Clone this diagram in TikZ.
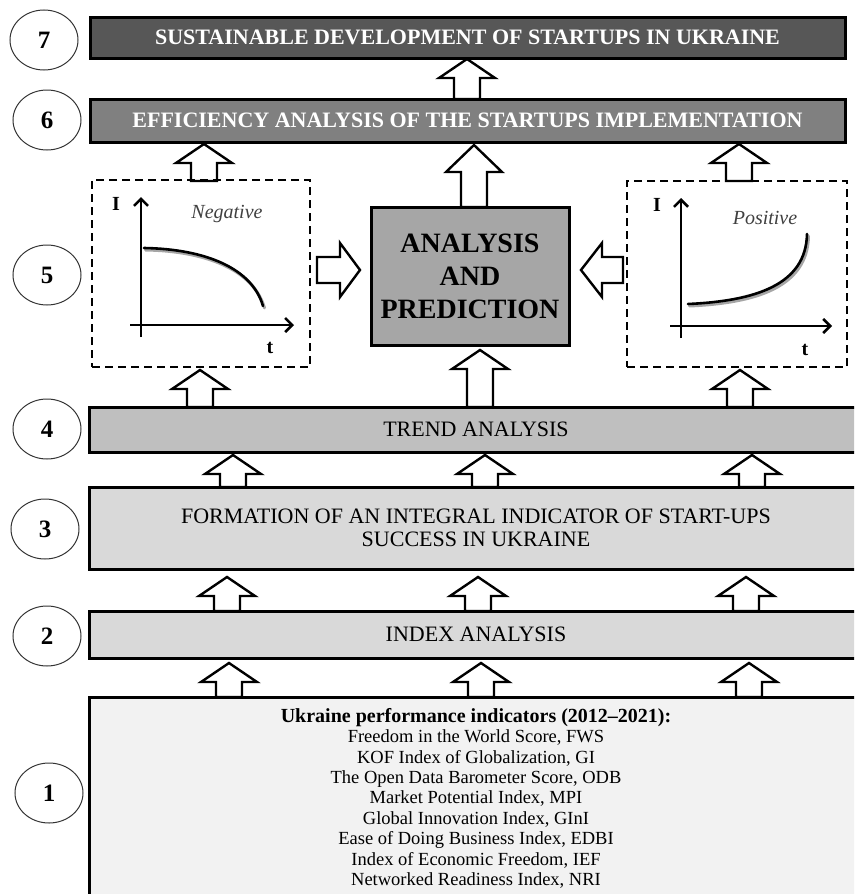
\documentclass[tikz,border=0pt]{standalone}
\usepackage{fontspec}
\setmainfont{Liberation Serif}
\usetikzlibrary{arrows.meta,shapes.geometric}
\definecolor{cseven}{HTML}{575757}
\definecolor{csix}{HTML}{808080}
\definecolor{cap}{HTML}{A6A6A6}
\definecolor{cfour}{HTML}{BFBFBF}
\definecolor{cthree}{HTML}{D9D9D9}
\definecolor{cone}{HTML}{F2F2F2}
\tikzset{
  bar/.style={draw=black, line width=3, rectangle, inner sep=0, align=center,
    font=\fontsize{22}{23}\selectfont},
  topbar/.style={bar, text=white, font=\fontsize{22}{23}\selectfont\bfseries},
  blk/.style={draw=black, fill=white, line width=2.4, line join=miter},
  numcirc/.style={ellipse, draw=black!80, line width=1, minimum width=68, minimum height=60,
    inner sep=0, font=\fontsize{25}{25}\selectfont\bfseries},
  dbox/.style={draw=black, dashed, dash pattern=on 8 off 5, line width=2.4, rectangle, inner sep=0},
  axis/.style={line width=2.6, -{Straight Barb[length=7,width=14]}},
  curve/.style={line width=2.6, line cap=round},
  cshadow/.style={line width=3, black!35, line cap=round},
  axlab/.style={font=\fontsize{20}{20}\selectfont\bfseries, inner sep=0},
  grlab/.style={font=\fontsize{20}{20}\selectfont\itshape, text=black!75, inner sep=0}
}
% vertical block arrow: [head length]{x}{y base}{y tip}
\newcommand\uparr[4][19]{%
  \draw[blk] (#2-13,#3) -- (#2-13,#4+#1) -- (#2-28,#4+#1) -- (#2,#4)
    -- (#2+28,#4+#1) -- (#2+13,#4+#1) -- (#2+13,#3) -- cycle;}
\begin{document}
\begin{tikzpicture}[x=1pt,y=-1pt]
\useasboundingbox (0,0) rectangle (854,894);
\clip (0,0) rectangle (854,894);

% block arrows (drawn first, bars cover their bases)
\uparr{467}{99}{59}
\uparr{204}{181}{144}
\uparr[27]{474}{207}{145}
\uparr{739}{181}{144}
\uparr{200}{407}{370}
\uparr{480}{407}{350}
\uparr{740}{407}{370}
\uparr{233}{487}{455}
\uparr{485}{487}{455}
\uparr{752}{487}{455}
\uparr{227}{611}{577}
\uparr{478}{611}{577}
\uparr{746}{611}{577}
\uparr{229}{697}{663}
\uparr{481}{697}{663}
\uparr{749}{697}{663}
% horizontal block arrows
\draw[blk] (317,257) -- (340,257) -- (340,243) -- (360,270) -- (340,297) -- (340,283) -- (317,283) -- cycle;
\draw[blk] (623,257) -- (602,257) -- (602,243) -- (581,270) -- (602,297) -- (602,283) -- (623,283) -- cycle;

% bars
\node[topbar, fill=cseven, minimum width=755, minimum height=41] (b7) at (467.5,37.5)
  {SUSTAINABLE DEVELOPMENT OF STARTUPS IN UKRAINE};
\node[topbar, fill=csix, minimum width=755, minimum height=43] (b6) at (467.5,120.5)
  {EFFICIENCY ANALYSIS OF THE STARTUPS IMPLEMENTATION};
\node[bar, fill=cap, minimum width=198, minimum height=138,
  font=\fontsize{28}{33}\selectfont\bfseries] (ap) at (470,276)
  {ANALYSIS\\AND\\PREDICTION};
\node[bar, fill=cfour, minimum width=774, minimum height=45] (b4) at (476,429.5) {TREND ANALYSIS};
\node[bar, fill=cthree, minimum width=774, minimum height=82] (b3) at (476,528)
  {FORMATION OF AN INTEGRAL INDICATOR OF START-UPS\\SUCCESS IN UKRAINE};
\node[bar, fill=cthree, minimum width=774, minimum height=47] (b2) at (476,634.5) {INDEX ANALYSIS};
\node[bar, fill=cone, minimum width=774, minimum height=220] (b1) at (476,807) {};
\node[align=center, anchor=north, inner sep=0, font=\fontsize{18.5}{20.4}\selectfont] (b1t) at (476,708)
  {{\fontsize{20}{20.4}\selectfont\bfseries Ukraine performance indicators (2012–2021):}\\
   Freedom in the World Score, FWS\\
   KOF Index of Globalization, GI\\
   The Open Data Barometer Score, ODB\\
   Market Potential Index, MPI\\
   Global Innovation Index, GInI\\
   Ease of Doing Business Index, EDBI\\
   Index of Economic Freedom, IEF\\
   Networked Readiness Index, NRI};

% dashed graph boxes
\node[dbox, minimum width=218, minimum height=187] (neg) at (201,273.5) {};
\node[dbox, minimum width=220, minimum height=186] (pos) at (737,274) {};

% negative graph
\coordinate (na0) at (141,337); \coordinate (na1) at (141,197);
\coordinate (nb0) at (130,325); \coordinate (nb1) at (294,325);
\draw[axis] (na0) -- (na1);
\draw[axis] (nb0) -- (nb1);
\coordinate (nc0) at (144,248); \coordinate (nc1) at (263,306);
\draw[cshadow] ([shift={(1.5,2)}]nc0) .. controls ([shift={(1.5,2)}]205,249) and ([shift={(1.5,2)}]252,268) .. ([shift={(1.5,2)}]nc1);
\draw[curve] (nc0) .. controls (205,249) and (252,268) .. (nc1);
\node[axlab] (nI) at (116,204) {I};
\node[axlab] (nt) at (270,348) {t};
\node[grlab] (nl) at (227,214) {Negative};

% positive graph
\coordinate (pa0) at (681,338); \coordinate (pa1) at (681,198);
\coordinate (pb0) at (670,326); \coordinate (pb1) at (832,326);
\draw[axis] (pa0) -- (pa1);
\draw[axis] (pb0) -- (pb1);
\coordinate (pc0) at (688,304); \coordinate (pc1) at (807,234);
\draw[cshadow] ([shift={(1.5,2)}]pc0) .. controls ([shift={(1.5,2)}]755,301) and ([shift={(1.5,2)}]806,285) .. ([shift={(1.5,2)}]pc1);
\draw[curve] (pc0) .. controls (755,301) and (806,285) .. (pc1);
\node[axlab] (pI) at (657,205) {I};
\node[axlab] (pt) at (805,350) {t};
\node[grlab] (pl) at (765,218) {Positive};

% step numbers
\node[numcirc] (n7) at (44,40) {7};
\node[numcirc] (n6) at (47,120) {6};
\node[numcirc] (n5) at (47,275) {5};
\node[numcirc] (n4) at (47,429) {4};
\node[numcirc] (n3) at (45,529) {3};
\node[numcirc] (n2) at (47,636) {2};
\node[numcirc] (n1) at (49,793) {1};
\end{tikzpicture}
\end{document}
